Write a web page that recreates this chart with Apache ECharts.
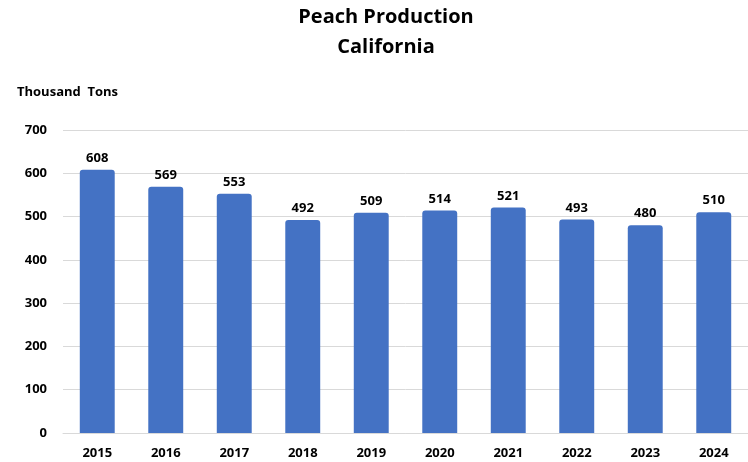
<!DOCTYPE html>
<html>
<head>
<meta charset="utf-8">
<script src="https://cdn.jsdelivr.net/npm/echarts@6/dist/echarts.min.js"></script>
<style>
  html, body { margin: 0; padding: 0; background: #fff; }
  #chart { width: 748px; height: 462px; }
</style>
</head>
<body>
<div id="chart"></div>
<script>
  // 数据
  const years = ['2015', '2016', '2017', '2018', '2019', '2020', '2021', '2022', '2023', '2024'];
  const production = [608, 569, 553, 492, 509, 514, 521, 493, 480, 510];
  const yTicks = [0, 100, 200, 300, 400, 500, 600, 700];

  const font = '"Open Sans", "Noto Sans", sans-serif';
  const chart = echarts.init(document.getElementById('chart'));

  const option = {
    backgroundColor: '#fff',
    animation: false,
    title: {
      text: 'Peach Production\nCalifornia',
      left: 381,
      textAlign: 'center',
      top: -3,
      textStyle: {
        fontFamily: font,
        fontSize: 20,
        fontWeight: 'bold',
        color: '#000',
        lineHeight: 30
      }
    },
    graphic: [
      {
        type: 'text',
        left: 17,
        top: 86,
        style: {
          text: 'Thousand  Tons',
          font: 'bold 13px ' + font,
          fill: '#000'
        }
      }
    ],
    grid: {
      left: 63,
      top: 130,
      width: 689,
      height: 303,
      containLabel: false
    },
    xAxis: {
      type: 'category',
      data: years,
      axisLine: { show: true, lineStyle: { color: '#d9d9d9', width: 1 } },
      axisTick: { show: false },
      axisLabel: {
        margin: 14,
        fontFamily: font,
        fontSize: 13,
        fontWeight: 'bold',
        color: '#000'
      }
    },
    yAxis: {
      type: 'value',
      min: yTicks[0],
      max: yTicks[yTicks.length - 1],
      interval: 100,
      axisLine: { show: false },
      axisTick: { show: false },
      splitLine: { lineStyle: { color: '#d9d9d9', width: 1 } },
      axisLabel: {
        margin: 16,
        fontFamily: font,
        fontSize: 13,
        fontWeight: 'bold',
        color: '#000'
      }
    },
    series: [
      {
        type: 'bar',
        data: production,
        barWidth: '51%',
        itemStyle: { color: '#4472C4', borderRadius: [3, 3, 0, 0] },
        label: {
          show: true,
          position: 'top',
          distance: 5,
          fontFamily: font,
          fontSize: 13,
          fontWeight: 'bold',
          color: '#000'
        }
      }
    ]
  };
  chart.setOption(option);
</script>
</body>
</html>
